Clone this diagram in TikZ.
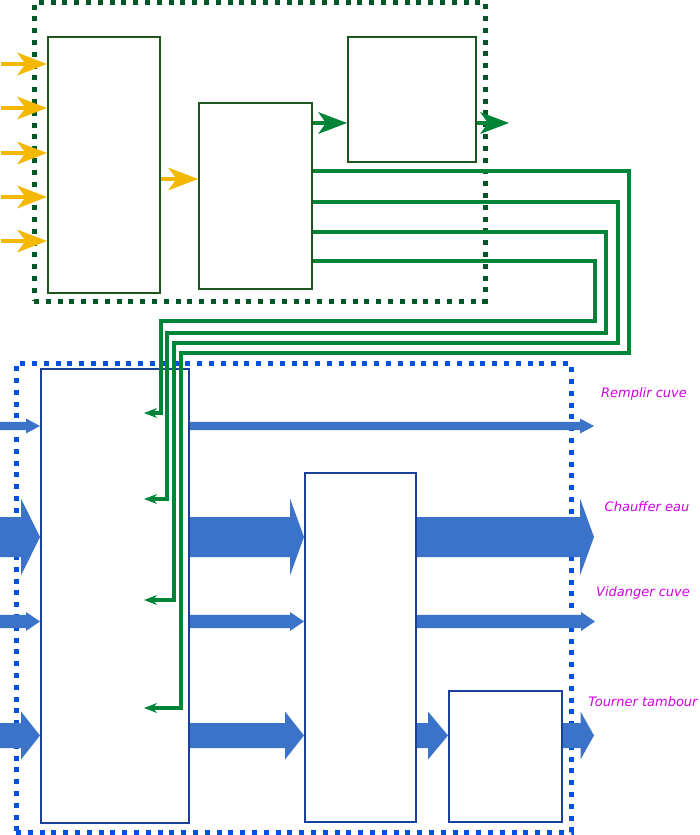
\documentclass[tikz,border=0pt]{standalone}
\usepackage{fontspec}
\newfontfamily\labfont{DejaVu Sans}
\usetikzlibrary{arrows.meta,calc}
\definecolor{gdotc}{RGB}{0,88,38}
\definecolor{gboxc}{RGB}{30,84,30}
\definecolor{glinec}{RGB}{0,132,55}
\definecolor{yarrowc}{RGB}{245,184,0}
\definecolor{bdotc}{RGB}{0,80,225}
\definecolor{bboxc}{RGB}{25,64,155}
\definecolor{barrowc}{RGB}{58,115,200}
\definecolor{labc}{RGB}{210,0,230}
\newcommand{\blockarrow}[5]{%
  \fill[barrowc] let \p1=#1, \p2=#2 in
    (\x1,{\y1+#3pt}) -- ({\x2-#5pt},{\y1+#3pt}) -- ({\x2-#5pt},{\y1+#4pt}) -- (\x2,\y1)
    -- ({\x2-#5pt},{\y1-#4pt}) -- ({\x2-#5pt},{\y1-#3pt}) -- (\x1,{\y1-#3pt}) -- cycle;}
\tikzset{
  pics/shead/.style n args={3}{code={\fill (0,0) -- (-#1,#2) -- ({-#1+#3},0) -- (-#1,-#2) -- cycle;}},
  gdot/.style={draw=gdotc, line width=5pt, dash pattern=on 5pt off 6.8pt, inner sep=0pt},
  bdot/.style={draw=bdotc, line width=5pt, dash pattern=on 5pt off 6.8pt, inner sep=0pt},
  gbox/.style={draw=gboxc, line width=2pt, inner sep=0pt},
  bbox/.style={draw=bboxc, line width=2pt, inner sep=0pt},
  yl/.style={draw=yarrowc, line width=4pt, shorten >=17pt},
  gbig/.style={draw=glinec, line width=4pt, shorten >=17pt},
  gl/.style={draw=glinec, line width=4pt, shorten >=7pt},
  lab/.style={anchor=base, inner sep=0pt, text=labc, font=\labfont\itshape\fontsize{13}{15}\selectfont}
}
\begin{document}
\begin{tikzpicture}[x=1pt,y=-1pt]
\useasboundingbox (0,0) rectangle (699,835);
% containers
\node[gdot, minimum width=451.5pt, minimum height=298.5pt] (GC) at (259.75,151.75) {};
\node[bdot, minimum width=555pt, minimum height=468.5pt] (BC) at (293.5,597.75) {};
% green boxes
\node[gbox, minimum width=112pt, minimum height=256pt] (G1) at (104,165) {};
\node[gbox, minimum width=113pt, minimum height=186pt] (G2) at (255.5,196) {};
\node[gbox, minimum width=128pt, minimum height=125pt] (G3) at (412,99.5) {};
% blue boxes
\node[bbox, minimum width=148pt, minimum height=454pt] (B1) at (115,596) {};
\node[bbox, minimum width=111pt, minimum height=349pt] (B2) at (360.5,647.5) {};
\node[bbox, minimum width=113pt, minimum height=131pt] (B3) at (505.5,756.5) {};
% free ends
\coordinate (y1) at (1,64);
\coordinate (y2) at (1,108);
\coordinate (y3) at (1,153);
\coordinate (y4) at (1,197);
\coordinate (y5) at (1,241);
\coordinate (gout) at (509,123);
\coordinate (t1) at (144,708);
\coordinate (t2) at (144,600);
\coordinate (t3) at (144,499);
\coordinate (t4) at (144,413);
\coordinate (i1) at (0,426);
\coordinate (i2) at (0,537);
\coordinate (i3) at (0,621.5);
\coordinate (i4) at (0,735.5);
\coordinate (o1) at (594,426);
\coordinate (o2) at (594,537);
\coordinate (o3) at (595,621.5);
\coordinate (o4) at (594,735.5);
% yellow arrows
\foreach \c in {y1,y2,y3,y4,y5}{
  \draw[yl] (\c) -- (G1.west |- \c);
  \pic[yarrowc] at (G1.west |- \c) {shead={30}{11.5}{8.5}};}
\draw[yl] (G1.east |- 0,179) -- (G2.west |- 0,179);
\pic[yarrowc] at (G2.west |- 0,179) {shead={30}{11.5}{8.5}};
% green arrows
\draw[gbig] (G2.east |- 0,123) -- (G3.west |- 0,123);
\pic[glinec] at (G3.west |- 0,123) {shead={29}{11}{8}};
\draw[gbig] (G3.east |- 0,123) -- (gout);
\pic[glinec] at (gout) {shead={29}{11}{8}};
% green connectors
\draw[gl] (G2.east |- 0,171) -| (629,353) -| (181,708) -- (t1);
\draw[gl] (G2.east |- 0,202) -| (618,343) -| (174,600) -- (t2);
\draw[gl] (G2.east |- 0,232) -| (606,333) -| (167,499) -- (t3);
\draw[gl] (G2.east |- 0,261) -| (594.5,321) -| (161,413) -- (t4);
\foreach \t in {t1,t2,t3,t4}{\pic[glinec, rotate=180] at (\t) {shead={13}{5}{4}};}
% blue block arrows
\blockarrow{(i1)}{(B1.west |- i1)}{4.2}{7.5}{14}
\blockarrow{(B1.east |- i1)}{(o1)}{4.2}{7.5}{14}
\blockarrow{(i2)}{(B1.west |- i2)}{20}{38.5}{19}
\blockarrow{(B1.east |- i2)}{(B2.west |- i2)}{20}{38.5}{14}
\blockarrow{(B2.east |- i2)}{(o2)}{20}{38.5}{14}
\blockarrow{(i3)}{(B1.west |- i3)}{6.7}{9.5}{14}
\blockarrow{(B1.east |- i3)}{(B2.west |- i3)}{6.7}{9.5}{14}
\blockarrow{(B2.east |- i3)}{(o3)}{6.7}{9.5}{14}
\blockarrow{(i4)}{(B1.west |- i4)}{12.5}{24}{19}
\blockarrow{(B1.east |- i4)}{(B2.west |- i4)}{12.5}{24}{19}
\blockarrow{(B2.east |- i4)}{(B3.west |- i4)}{12.5}{24}{20}
\blockarrow{(B3.east |- i4)}{(o4)}{12.5}{24}{13.5}
% labels
\node[lab] (l1) at (644,397) {Remplir cuve};
\node[lab] (l2) at (647,511) {Chauffer eau};
\node[lab] (l3) at (643,596) {Vidanger cuve};
\node[lab] (l4) at (643,706) {Tourner tambour};
\end{tikzpicture}
\end{document}
